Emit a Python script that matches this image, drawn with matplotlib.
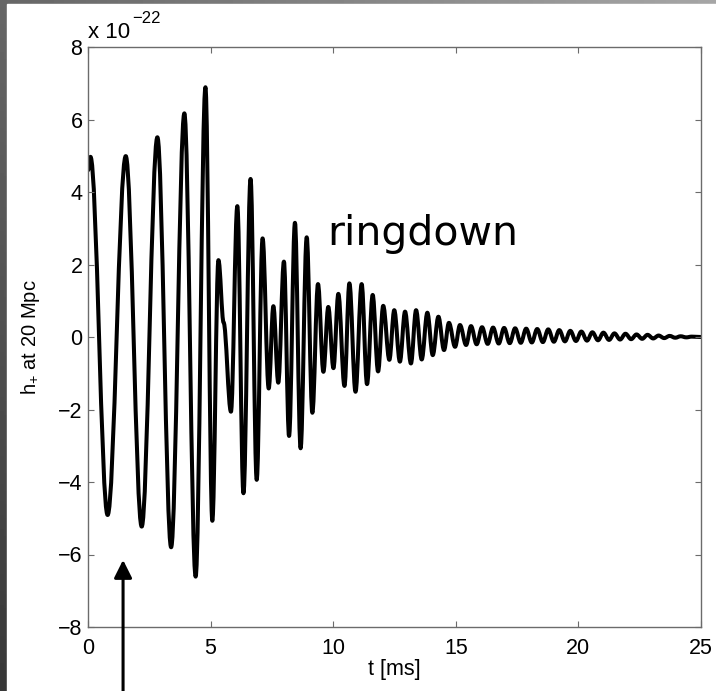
import numpy as np
import matplotlib
matplotlib.use("Agg")
import matplotlib.pyplot as plt
from matplotlib.path import Path
from matplotlib.patches import PathPatch, Rectangle

plt.rcParams["font.family"] = ["Liberation Sans", "DejaVu Sans"]
plt.rcParams["mathtext.fontset"] = "custom"
plt.rcParams["mathtext.rm"] = "Liberation Sans"

# turning points of the waveform (t in ms, h in units of 1e-22)
t_ms = [0.00, 0.10, 0.80, 1.54, 2.19, 2.83, 3.39, 3.93, 4.39, 4.79,
        5.07, 5.32, 5.53, 5.83, 6.09, 6.34, 6.63, 6.88, 7.12, 7.37,
        7.56, 7.76, 7.99, 8.20, 8.44, 8.67, 8.92, 9.15, 9.38, 9.60,
        9.80, 10.01, 10.21, 10.46, 10.66, 10.91, 11.16, 11.38, 11.61, 11.83,
        12.04, 12.29, 12.49, 12.72, 12.93, 13.17, 13.38, 13.61, 13.84, 14.06,
        14.29, 14.52, 14.72, 14.97, 15.17, 15.42, 15.62, 15.85, 16.07, 16.30,
        16.52, 16.75, 16.97, 17.20, 17.42, 17.65, 17.87, 18.10, 18.32, 18.55,
        18.77, 19.00, 19.22, 19.45, 19.67, 19.90, 20.12, 20.35, 20.57, 20.80,
        21.02, 21.25, 21.47, 21.70, 21.92, 22.15, 22.37, 22.60, 22.82, 23.05,
        23.27, 23.50, 23.72, 23.95, 24.17, 24.40, 24.62, 25.00]
h_plus = [4.60, 4.97, -4.91, 4.99, -5.23, 5.51, -5.80, 6.17, -6.61, 6.89,
          -5.07, 2.12, 0.40, -2.06, 3.61, -4.31, 4.36, -3.94, 2.72, -1.42,
          0.85, -1.26, 2.08, -2.73, 3.15, -3.07, 2.75, -2.09, 1.46, -0.96,
          0.83, -0.86, 1.19, -1.35, 1.48, -1.51, 1.46, -1.30, 1.16, -0.95,
          0.86, -0.63, 0.74, -0.68, 0.70, -0.73, 0.74, -0.62, 0.67, -0.50,
          0.56, -0.36, 0.39, -0.27, 0.33, -0.22, 0.30, -0.20, 0.27, -0.19,
          0.26, -0.18, 0.25, -0.17, 0.24, -0.16, 0.23, -0.15, 0.22, -0.14,
          0.21, -0.13, 0.19, -0.12, 0.17, -0.11, 0.15, -0.10, 0.13, -0.09,
          0.12, -0.08, 0.10, -0.07, 0.09, -0.06, 0.07, -0.05, 0.06, -0.04,
          0.04, -0.03, 0.03, -0.02, 0.02, -0.01, 0.01, 0.00]

x_ticks = [0, 5, 10, 15, 20, 25]
y_ticks = [-8, -6, -4, -2, 0, 2, 4, 6, 8]
arrow_t = 1.43
arrow_tip = -6.15

fig = plt.figure(figsize=(7.16, 6.91), dpi=100)

# grey slide background with a white page on it
bg = fig.add_axes([0, 0, 1, 1], zorder=-10)
gx, gy = np.meshgrid(np.linspace(0, 1, 200), np.linspace(0, 1, 200))
bg.imshow(0.22 + 0.25 * gx + 0.18 * gy, cmap="gray", vmin=0, vmax=1,
          aspect="auto", extent=[0, 1, 0, 1], origin="lower")
bg.add_patch(Rectangle((7 / 716, 0), 1, 1 - 4 / 691, color="white"))
bg.set_xlim(0, 1)
bg.set_ylim(0, 1)
bg.axis("off")

ax = fig.add_axes([88 / 716, 64 / 691, 613 / 716, 580 / 691])

verts = [(t_ms[0], h_plus[0])]
codes = [Path.MOVETO]
k = 0.36
for i in range(1, len(t_ms)):
    t0, h0, t1, h1 = t_ms[i - 1], h_plus[i - 1], t_ms[i], h_plus[i]
    dt = t1 - t0
    verts += [(t0 + k * dt, h0), (t1 - k * dt, h1), (t1, h1)]
    codes += [Path.CURVE4] * 3
ax.add_patch(PathPatch(Path(verts, codes), fill=False, edgecolor="black",
                       lw=2.9, joinstyle="round", capstyle="round"))

ax.set_xlim(0, 25)
ax.set_ylim(-8, 8)
ax.set_xticks(x_ticks)
ax.set_yticks(y_ticks)
ax.tick_params(direction="in", length=4.5, width=0.8, color="#6b6b6b",
               top=True, right=True, labelsize=15.5)
ax.tick_params(axis="x", pad=8)
ax.tick_params(axis="y", pad=4)
for s in ax.spines.values():
    s.set_color("#6b6b6b")
    s.set_linewidth(1.0)

ax.set_xlabel("t [ms]", fontsize=15.5)
ax.xaxis.set_label_coords(0.5, -0.055)
ax.set_ylabel(r"$\mathregular{h_{+}}$ at 20 Mpc", fontsize=14.5)
ax.yaxis.set_label_coords(-0.075, 0.5)

ax.text(0.0, 1.0155, "x 10", transform=ax.transAxes, fontsize=16,
        ha="left", va="baseline")
ax.text(0.072, 1.042, "\u221222", transform=ax.transAxes, fontsize=12,
        ha="left", va="baseline")

ax.text(9.75, 2.54, "ringdown", fontsize=29.5, family="DejaVu Sans",
        ha="left", va="baseline")

ax.annotate("", xy=(arrow_t, arrow_tip), xycoords="data",
            xytext=(arrow_t, 0), textcoords=("data", "figure fraction"),
            arrowprops=dict(arrowstyle="-|>", lw=2.2, color="black",
                            mutation_scale=27, shrinkA=0, shrinkB=0),
            annotation_clip=False)

fig.savefig("out.png", dpi=100)
